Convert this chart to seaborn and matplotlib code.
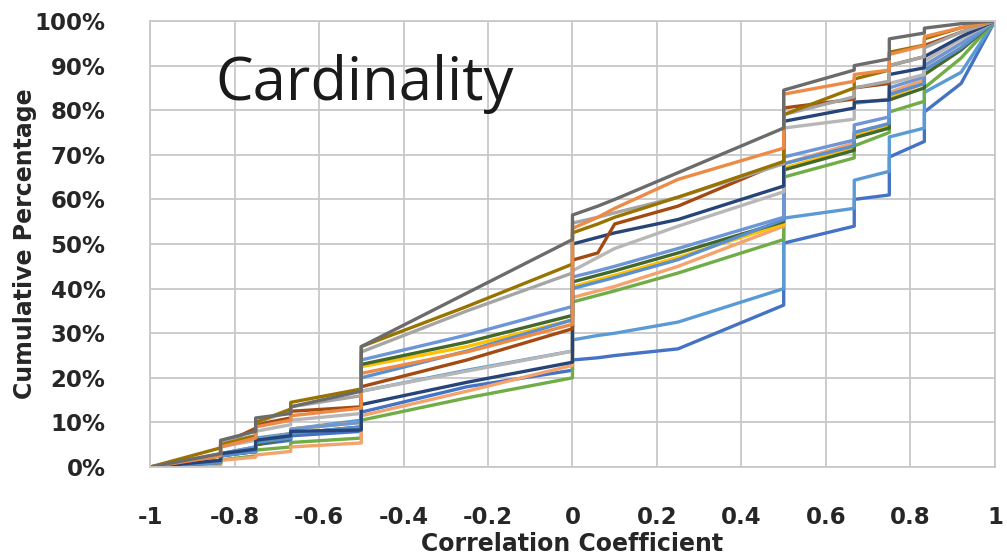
import numpy as np
import pandas as pd
import matplotlib
matplotlib.use("Agg")
import matplotlib.pyplot as plt
import seaborn as sns
from matplotlib.ticker import PercentFormatter, MultipleLocator
from matplotlib import font_manager

# ---------------- data ----------------
x_grid = [-1, -0.833, -0.833, -0.75, -0.75, -0.667, -0.667, -0.5, -0.5, -0.25,
          0, 0, 0.06, 0.1, 0.25, 0.5, 0.5, 0.667, 0.667, 0.75, 0.75,
          0.833, 0.833, 0.92, 1]

blue = [0, 1, 2.5, 3.5, 5, 6, 7, 8, 12.3, 18, 21.7, 24, 24.5, 25, 26.5, 36.3, 50.2,
        54, 60, 61, 69.5, 73, 79.6, 86, 100]
light_blue = [0, 1.5, 3, 4.5, 6.5, 7.5, 8.5, 10.5, 17, 21.7, 26, 28.5, 29.5, 30, 32.5,
              40, 55.8, 58, 64.3, 66.3, 74, 76, 84, 88.5, 100]
green = [0, 0.5, 1.6, 2.5, 3.8, 4.5, 5.5, 6.5, 10.5, 15.5, 20, 37, 38.5, 39.5, 43.5,
         51, 65, 69.3, 72, 75, 79.6, 82, 85, 91.7, 100]
light_orange = [0, 0.5, 1.5, 2.2, 2.7, 3.5, 4.5, 5.4, 11.5, 17, 22.8, 38, 39.5, 40.5,
                45, 54, 68, 72.6, 75, 77, 84, 86.8, 90, 95, 100]
gold = [0, 1.5, 3, 4, 6, 7.5, 8.5, 10, 22.5, 27, 33, 40.4, 42, 43, 47, 54.5, 67, 71.5,
        74.5, 76.5, 83, 86, 89, 94, 100]
dark_green = [0, 1, 2.5, 3.5, 5, 6.5, 7.5, 9, 23, 28, 34, 41.5, 43, 44, 48, 55, 66.6,
              71, 73.8, 76, 82.3, 85, 88, 93.5, 100]
steel_blue = [0, 1, 2.5, 3.5, 5.5, 6.5, 7.5, 9, 20, 26, 33, 40, 41.5, 42.5, 46.5, 55.5,
              68, 72, 75, 77, 83.5, 86, 89, 94, 100]
medium_blue = [0, 1.5, 3, 4.5, 6, 7.5, 8.5, 10, 24, 29.6, 36, 42.6, 44, 45, 49, 56,
               69.5, 73.3, 76.7, 78.5, 85, 87.5, 90, 95, 100]
silver = [0, 2.5, 4.5, 6, 8, 9.5, 10.5, 12, 17, 21.5, 26, 44, 47, 49, 54, 61.7, 76, 78,
          81.5, 82.5, 86, 88, 91, 96, 100]
navy = [0, 1.5, 3, 4, 6, 7, 8, 8.3, 14, 19, 23.5, 50, 51.5, 52.5, 55.5, 63, 77.5,
        80.5, 81.8, 82.3, 88, 89.5, 92, 96.5, 100]
brown = [0, 2.5, 5, 8.7, 9.5, 11, 12.5, 13.5, 18, 24, 31, 46.4, 48, 54.5, 58.5, 68.5,
         80.5, 82.5, 85, 86, 90, 92, 94.5, 97.5, 100]
gray = [0, 3, 5.5, 7, 10, 12.5, 13.5, 16, 25.8, 35, 43.5, 54.7, 56, 57, 60.5, 68, 79,
        83, 85, 86.5, 90, 92, 94, 97.5, 100]
olive = [0, 4.3, 5, 7, 10, 13, 14.5, 17.5, 27, 36, 45.5, 52.5, 54.5, 56, 60.5, 68.5,
         79, 85, 87, 89, 93, 94.6, 96, 98.5, 100]
orange = [0, 2.5, 4.5, 6.5, 9, 10.5, 11.5, 13.2, 21, 25.8, 32, 53.5, 56, 58, 64.5,
          71.5, 83.6, 86.5, 88, 89, 92.5, 94.5, 96.5, 98.5, 100]
dark_gray = [0, 3, 6, 8, 11, 12, 13.5, 17, 27, 39, 51, 56.5, 58.5, 60, 66, 76, 84.5,
             89, 90, 91.5, 96, 97.3, 98.4, 99.4, 100]

series_names = ["blue", "light_blue", "green", "light_orange", "gold", "dark_green",
                "steel_blue", "medium_blue", "silver", "navy", "brown", "gray",
                "olive", "orange", "dark_gray"]
series_values = [blue, light_blue, green, light_orange, gold, dark_green,
                 steel_blue, medium_blue, silver, navy, brown, gray,
                 olive, orange, dark_gray]
palette = {"blue": "#4472C4", "light_blue": "#5B9BD5", "green": "#70AD47",
           "light_orange": "#F4A36C", "gold": "#FFC000", "dark_green": "#43682B",
           "steel_blue": "#5A8FD0", "medium_blue": "#6E95D6", "silver": "#B7B7B7",
           "navy": "#264478", "brown": "#A34A12", "gray": "#A5A5A5",
           "olive": "#997300", "orange": "#ED8A45", "dark_gray": "#6B6B6B"}

rows = []
for name, vals in zip(series_names, series_values):
    for i, (xv, yv) in enumerate(zip(x_grid, vals)):
        rows.append({"series": name, "order": i, "r": xv, "pct": yv})
df = pd.DataFrame(rows)

# ---------------- fonts ----------------
def have(fam):
    try:
        font_manager.findfont(font_manager.FontProperties(family=fam), fallback_to_default=False)
        return True
    except Exception:
        return False

title_font = "Open Sans" if have("Open Sans") else "DejaVu Sans"

sns.set_style("white")
plt.rcParams["font.family"] = ["DejaVu Sans"]

fig = plt.figure(figsize=(10.07, 5.6), dpi=100)
ax = fig.add_axes([0.149, 0.166, 0.839, 0.7965])

sns.lineplot(data=df, x="r", y="pct", hue="series", palette=palette,
             hue_order=series_names, units="series", estimator=None, sort=False,
             linewidth=2.4, legend=False, ax=ax)

ax.set_xlim(-1, 1)
ax.set_ylim(0, 100)
ax.xaxis.set_major_locator(MultipleLocator(0.2))
ax.yaxis.set_major_locator(MultipleLocator(10))
ax.yaxis.set_major_formatter(PercentFormatter(100, decimals=0))
ax.xaxis.set_major_formatter(plt.FuncFormatter(lambda v, p: f"{v:g}" if abs(v) > 1e-9 else "0"))
ax.grid(True, color="#C8C8C8", linewidth=1.3)
ax.set_axisbelow(True)
for s in ax.spines.values():
    s.set_color("#C8C8C8")
    s.set_linewidth(1.3)
ax.tick_params(axis="both", length=0, labelsize=16.5)
ax.tick_params(axis="y", pad=32)
ax.tick_params(axis="x", pad=28)
for lbl in ax.get_xticklabels() + ax.get_yticklabels():
    lbl.set_fontweight("bold")

ax.set_xlabel("Correlation Coefficient", fontsize=17, fontweight="bold", labelpad=2)
ax.set_ylabel("Cumulative Percentage", fontsize=17, fontweight="bold", labelpad=-2)

ax.text(-0.845, 82.3, "Cardinality", fontsize=43, family=title_font,
        color="#1a1a1a", va="baseline", ha="left")

fig.savefig("out.png", dpi=100)
